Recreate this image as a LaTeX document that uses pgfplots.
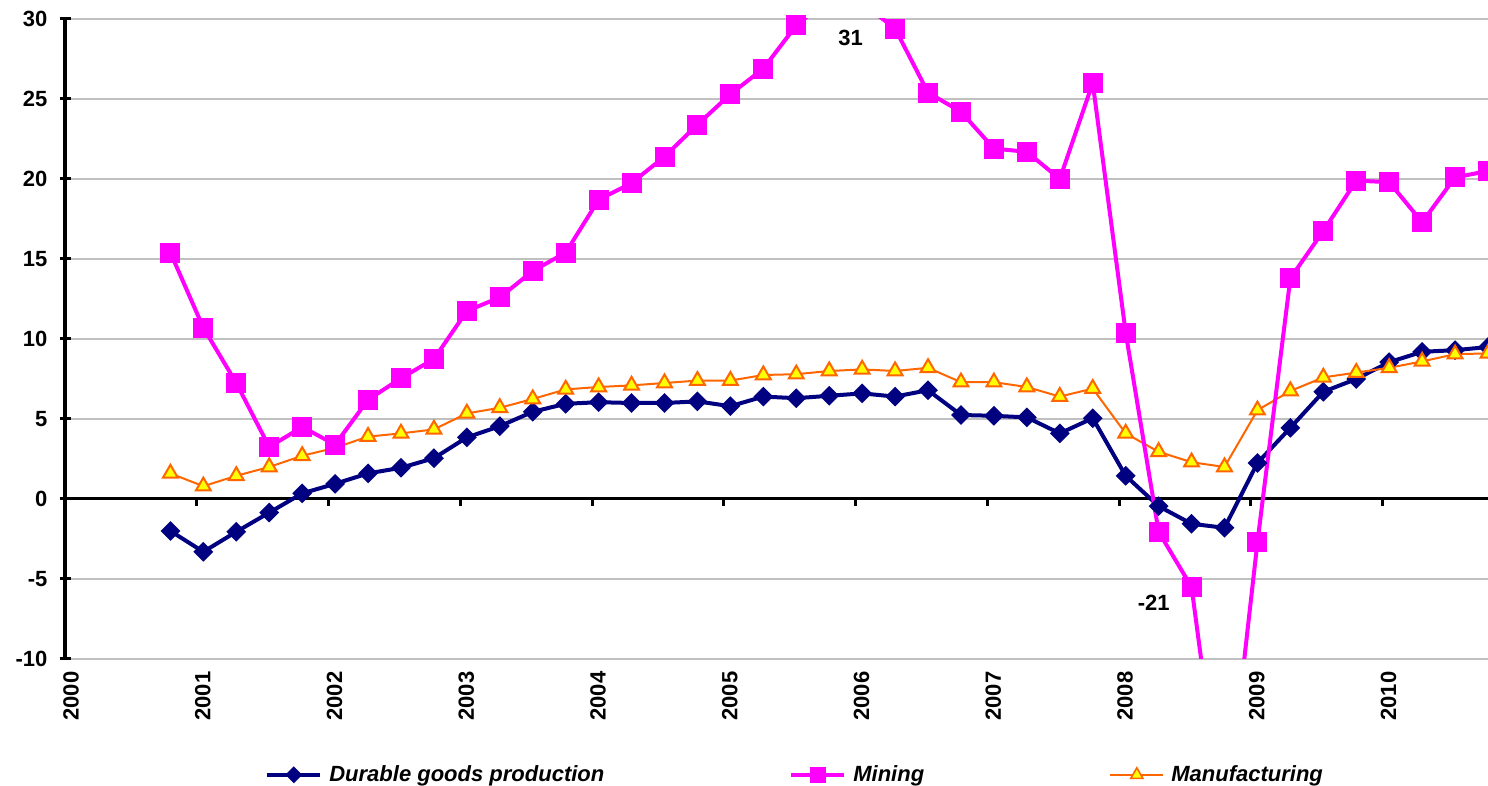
\documentclass[border=0pt]{standalone}
\usepackage{pgfplots}
\pgfplotsset{compat=1.18}
\usepackage{fontspec}
\setmainfont{Liberation Sans}

\definecolor{durable}{HTML}{000080}
\definecolor{mining}{HTML}{FF00FF}
\definecolor{manuline}{HTML}{FF6600}
\definecolor{manufill}{HTML}{FFFF00}
\definecolor{gridgray}{HTML}{C0C0C0}

\newcommand{\chartfont}{\fontsize{11}{13}\selectfont\bfseries}

% Quarterly growth rates, one row per quarter (k = 0 is 2000 Q4)
\pgfplotstableread{
k  durable  mining  manuf
0  -2.00    15.40   1.60
1  -3.30    10.70   0.80
2  -2.05     7.25   1.45
3  -0.85     3.25   2.00
4   0.35     4.50   2.70
5   0.95     3.40   3.20
6   1.60     6.20   3.90
7   1.95     7.55   4.10
8   2.55     8.75   4.35
9   3.85    11.75   5.35
10  4.55    12.60   5.70
11  5.45    14.25   6.25
12  5.95    15.40   6.85
13  6.05    18.70   7.00
14  6.00    19.75   7.10
15  6.00    21.40   7.25
16  6.10    23.40   7.40
17  5.80    25.30   7.40
18  6.40    26.90   7.75
19  6.30    29.60   7.80
20  6.45    31.30   8.00
21  6.60    31.00   8.10
22  6.40    29.40   8.00
23  6.80    25.40   8.20
24  5.25    24.20   7.30
25  5.20    21.90   7.30
26  5.10    21.70   7.00
27  4.10    20.00   6.40
28  5.05    26.00   6.90
29  1.45    10.40   4.10
30 -0.45    -2.05   2.95
31 -1.55    -5.50   2.30
32 -1.80   -21.00   2.00
33  2.25    -2.70   5.55
34  4.45    13.80   6.75
35  6.70    16.75   7.60
36  7.50    19.90   7.90
37  8.55    19.80   8.20
38  9.20    17.30   8.60
39  9.30    20.10   9.05
40  9.50    20.50   9.10
}\growth

\begin{document}
\begin{tikzpicture}
\useasboundingbox (0,0) rectangle (744pt,393pt);
\begin{axis}[
  at={(32.5pt,63.5pt)}, anchor=south west,
  scale only axis, width=711.5pt, height=320pt,
  xmin=-3.2, xmax=40, ymin=-10, ymax=30,
  axis x line*=bottom, axis y line*=left,
  x axis line style={draw=none},
  y axis line style={line width=1.6pt, black, -},
  xtick={-3.2,0.8,4.8,8.8,12.8,16.8,20.8,24.8,28.8,32.8,36.8},
  xticklabels={2000,2001,2002,2003,2004,2005,2006,2007,2008,2009,2010},
  xtick style={draw=none},
  ytick={-10,-5,0,5,10,15,20,25,30},
  yticklabels={-10,-5,0,5,10,15,20,25,30},
  ytick style={line width=1.5pt, black},
  tick align=center, major tick length=5.5pt,
  ymajorgrids, grid style={gridgray, line width=1pt},
  extra y ticks={0}, extra y tick labels={},
  extra y tick style={grid style={black, line width=1.5pt}},
  xticklabel style={rotate=90, anchor=east, yshift=-3pt, font=\chartfont},
  yticklabel style={xshift=-2.5pt, font=\chartfont},
  legend columns=3,
  legend style={at={(axis description cs:0.1405,-0.181)}, anchor=west,
    draw=none, fill=none, inner sep=0pt, column sep=0pt,
    nodes={inner sep=0pt}, font=\fontsize{11}{13}\selectfont\bfseries\itshape},
  legend image code/.code={%
    \draw[mark repeat=2,mark phase=2,#1] plot coordinates {(0pt,0pt) (13.25pt,0pt) (26.5pt,0pt)};},
]
% legend order: durable goods, mining, manufacturing
\addlegendimage{durable, line width=2pt, mark=square*, mark size=2pt, mark options={rotate=45}}
\addlegendentry{\hspace{3.5pt}\makebox[230pt][l]{Durable goods production}}
\addlegendimage{mining, line width=2pt, mark=square*, mark size=3pt}
\addlegendentry{\hspace{3.5pt}\makebox[128pt][l]{Mining}}
\addlegendimage{manuline, line width=1pt, mark=triangle*, mark size=3.5pt, mark options={fill=manufill, draw=manuline, line width=0.8pt}}
\addlegendentry{\hspace{3.5pt}Manufacturing}

% series
\addplot[forget plot, durable, line width=2pt, mark=square*, mark size=2.5pt,
  mark options={rotate=45}] table[x=k, y=durable] {\growth};
\addplot[forget plot, manuline, line width=1pt, mark=triangle*, mark size=4.3pt,
  mark options={fill=manufill, draw=manuline, line width=1pt}] table[x=k, y=manuf] {\growth};
\addplot[forget plot, mining, line width=2pt, mark=square*, mark size=4pt] table[x=k, y=mining] {\growth};

% tick marks on the zero line
\pgfplotsinvokeforeach{0.8,4.8,8.8,12.8,16.8,20.8,24.8,28.8,32.8,36.8}{
  \draw[black, line width=1.5pt] (axis cs:#1,0) -- ([yshift=-3.5pt]axis cs:#1,0);
}

% values of the off-scale mining quarters
\node[font=\chartfont] at (axis cs:20.65,28.8) {31};
\node[font=\chartfont] at (axis cs:29.85,-6.5) {-21};
\end{axis}
\end{tikzpicture}
\end{document}
